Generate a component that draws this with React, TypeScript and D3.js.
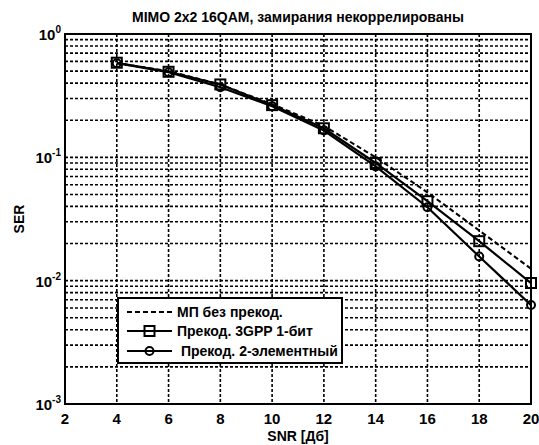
import React, { useEffect, useRef } from 'react';
import * as d3 from 'd3';

const snr = [4, 6, 8, 10, 12, 14, 16, 18, 20];
const serNoPrecoding = [0.58, 0.5, 0.39, 0.27, 0.18, 0.1, 0.052, 0.0255, 0.0125];
const serPrecoding3gpp = [0.585, 0.494, 0.39, 0.265, 0.172, 0.09, 0.0441, 0.0209, 0.00957];
const serPrecoding2el = [0.58, 0.49, 0.37, 0.26, 0.165, 0.0845, 0.0394, 0.0157, 0.00634];
const xTicks = [2, 4, 6, 8, 10, 12, 14, 16, 18, 20];
const yTicks = [1e-3, 1e-2, 1e-1, 1];
const yExponents = ['-3', '-2', '-1', '0'];
const legendLabels = ['МП без прекод.', 'Прекод. 3GPP 1-бит', ' Прекод. 2-элементный'];

const W = 539;
const H = 445;

export default function App() {
  const ref = useRef<SVGSVGElement | null>(null);

  useEffect(() => {
    const svg = d3.select(ref.current);
    svg.selectAll('*').remove();

    const margin = { top: 34, right: 8, bottom: 41, left: 65 };
    const width = W - margin.left - margin.right;
    const height = H - margin.top - margin.bottom;
    const font = "'Liberation Sans', Arial, sans-serif";

    const x = d3.scaleLinear().domain([2, 20]).range([0, width]);
    const y = d3.scaleLog().domain([1e-3, 1]).range([height, 0]);

    const g = svg.append('g')
      .attr('transform', 'translate(' + margin.left + ',' + margin.top + ')');

    // minor + major horizontal grid
    const minor: number[] = [];
    [1e-3, 1e-2, 1e-1].forEach(d => {
      for (let k = 1; k <= 10; k++) minor.push(d * k);
    });
    const hGrid = Array.from(new Set(minor.map(v => +v.toPrecision(3)))).filter(v => v > 1e-3 && v < 1);

    g.append('g').selectAll('line')
      .data(hGrid)
      .enter().append('line')
      .attr('x1', 0).attr('x2', width)
      .attr('y1', d => y(d)).attr('y2', d => y(d))
      .attr('stroke', '#000')
      .attr('stroke-width', 1.6)
      .attr('stroke-dasharray', '3,2');

    g.append('g').selectAll('line')
      .data(xTicks.slice(1, -1))
      .enter().append('line')
      .attr('x1', d => x(d)).attr('x2', d => x(d))
      .attr('y1', 0).attr('y2', height)
      .attr('stroke', '#000')
      .attr('stroke-width', 1.6)
      .attr('stroke-dasharray', '3,2');

    // frame
    g.append('rect')
      .attr('width', width).attr('height', height)
      .attr('fill', 'none').attr('stroke', '#000').attr('stroke-width', 2);

    // tick labels
    g.append('g').selectAll('text')
      .data(xTicks)
      .enter().append('text')
      .attr('x', d => x(d))
      .attr('y', height + 20)
      .attr('text-anchor', 'middle')
      .attr('font-family', font).attr('font-weight', 'bold').attr('font-size', 15)
      .text(d => d);

    const yl = g.append('g').selectAll('text')
      .data(yTicks)
      .enter().append('text')
      .attr('x', -4)
      .attr('y', d => y(d) + 6)
      .attr('text-anchor', 'end')
      .attr('font-family', font).attr('font-weight', 'bold').attr('font-size', 15);
    yl.append('tspan').text('10');
    yl.append('tspan')
      .attr('dy', -7)
      .attr('font-size', 10)
      .text((d, i) => yExponents[i]);

    // series
    const line = d3.line<number>()
      .x((d, i) => x(snr[i]))
      .y(d => y(d));

    g.append('path').datum(serNoPrecoding)
      .attr('d', line).attr('fill', 'none')
      .attr('stroke', '#000').attr('stroke-width', 2)
      .attr('stroke-dasharray', '5,3');

    g.append('path').datum(serPrecoding3gpp)
      .attr('d', line).attr('fill', 'none')
      .attr('stroke', '#000').attr('stroke-width', 2.2);

    g.append('path').datum(serPrecoding2el)
      .attr('d', line).attr('fill', 'none')
      .attr('stroke', '#000').attr('stroke-width', 2.2);

    g.append('g').selectAll('rect')
      .data(serPrecoding3gpp)
      .enter().append('rect')
      .attr('x', (d, i) => x(snr[i]) - 5)
      .attr('y', d => y(d) - 5)
      .attr('width', 10).attr('height', 10)
      .attr('fill', 'none').attr('stroke', '#000').attr('stroke-width', 2);

    g.append('g').selectAll('circle')
      .data(serPrecoding2el)
      .enter().append('circle')
      .attr('cx', (d, i) => x(snr[i]))
      .attr('cy', d => y(d))
      .attr('r', 4)
      .attr('fill', 'none').attr('stroke', '#000').attr('stroke-width', 2);

    // legend
    const lg = g.append('g').attr('transform', 'translate(' + (118 - margin.left) + ',' + (298 - margin.top) + ')');
    lg.append('rect')
      .attr('width', 224).attr('height', 65)
      .attr('fill', '#fff').attr('stroke', '#000').attr('stroke-width', 2);

    const rows = lg.selectAll('g.item')
      .data(legendLabels)
      .enter().append('g')
      .attr('class', 'item')
      .attr('transform', (d, i) => 'translate(0,' + [14, 33, 53][i] + ')');

    rows.append('line')
      .attr('x1', 9).attr('x2', 54)
      .attr('stroke', '#000')
      .attr('stroke-width', (d, i) => i === 0 ? 2 : 2.2)
      .attr('stroke-dasharray', (d, i) => i === 0 ? '5,3' : null);

    rows.filter((d, i) => i === 1).append('rect')
      .attr('x', 26.5).attr('y', -5).attr('width', 10).attr('height', 10)
      .attr('fill', 'none').attr('stroke', '#000').attr('stroke-width', 2);
    rows.filter((d, i) => i === 2).append('circle')
      .attr('cx', 31.5).attr('r', 4)
      .attr('fill', 'none').attr('stroke', '#000').attr('stroke-width', 2);

    rows.append('text')
      .attr('x', 59)
      .attr('y', 5)
      .attr('font-family', font).attr('font-weight', 'bold').attr('font-size', 14)
      .style('white-space', 'pre')
      .text(d => d);

    // titles
    svg.append('text')
      .attr('x', margin.left + width / 2)
      .attr('y', 22)
      .attr('text-anchor', 'middle')
      .attr('font-family', font).attr('font-weight', 'bold').attr('font-size', 14)
      .text('MIMO 2x2 16QAM, замирания некоррелированы');

    svg.append('text')
      .attr('x', margin.left + width / 2)
      .attr('y', 441)
      .attr('text-anchor', 'middle')
      .attr('font-family', font).attr('font-weight', 'bold').attr('font-size', 14)
      .text('SNR [Дб]');

    svg.append('text')
      .attr('transform', 'translate(24,' + (margin.top + height / 2) + ') rotate(-90)')
      .attr('text-anchor', 'middle')
      .attr('font-family', font).attr('font-weight', 'bold').attr('font-size', 14)
      .text('SER');
  }, []);

  return (
    <svg ref={ref} width={W} height={H}
      style={{ position: 'absolute', left: 0, top: 0, background: '#fff' }} />
  );
}
